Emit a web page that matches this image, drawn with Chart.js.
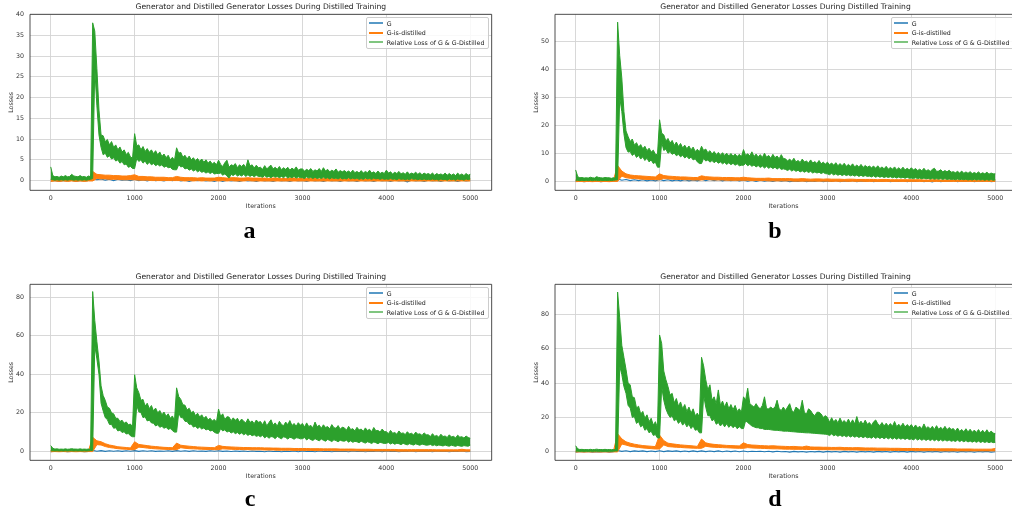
<!DOCTYPE html>
<html><head><meta charset="utf-8">
<script src="https://cdn.jsdelivr.net/npm/chart.js@4"></script>
<style>
body{margin:0;background:#fff;width:1012px;height:516px;overflow:hidden;position:relative;font-family:"DejaVu Sans",sans-serif}
canvas{position:absolute}
.ttl{position:absolute;font-size:7.6px;color:#222;white-space:nowrap;transform:translateX(-50%);line-height:8px}
.lg{position:absolute;border:1px solid #ccc;border-radius:2px;background:rgba(255,255,255,0.85);font-size:6.3px;color:#222;box-sizing:border-box}
.lg span{position:absolute;white-space:nowrap;line-height:7px}
.lg i{position:absolute;height:2px}
.let{position:absolute;font-family:"Liberation Serif",serif;font-weight:bold;font-size:24px;line-height:24px;transform:translateX(-50%);color:#000}
</style></head>
<body>
<script>
const chartTitle = 'Generator and Distilled Generator Losses During Distilled Training';
const seriesNames = ['G', 'G-is-distilled', 'Relative Loss of G & G-Distilled'];
const panelLetters = ['a', 'b', 'c', 'd'];
const xTitle = 'Iterations', yTitle = 'Losses';
const xTicks = [0, 1000, 2000, 3000, 4000, 5000];
const yTicksA = [0, 5, 10, 15, 20, 25, 30, 35, 40];
const yTicksB = [0, 10, 20, 30, 40, 50];
const yTicksC = [0, 20, 40, 60, 80];
const yTicksD = [0, 20, 40, 60, 80];
const STEP_GREEN = 25, STEP_OTHER = 50; // iterations between read samples
// The noisy series are read as upper / lower envelopes of their band.

// ---- panel a ----
const gAHi = [3.3,1.2,0.9,1.0,0.8,1.1,0.9,1.2,0.9,1.0,1.5,1.1,1.0,0.9,1.2,0.9,1.0,0.8,1.1,0.9,
38,36,27,17,11,10.8,9.4,9.9,8.6,9.4,8.0,8.6,7.4,8.1,6.9,7.4,6.3,6.8,5.7,5.4,
11.3,8.4,8.6,7.4,8.2,7.0,7.7,6.8,7.4,6.5,7.2,6.2,6.9,5.8,6.4,5.5,6.1,5.0,5.6,4.9,
7.9,6.6,6.8,5.6,6.1,5.2,5.9,5.0,5.5,4.8,5.3,4.6,5.2,4.4,5.0,4.2,4.7,4.0,4.4,3.8,
4.9,3.9,3.4,4.3,4.9,3.2,3.8,3.6,4.1,3.1,3.8,3.4,3.9,3.1,5.0,3.5,3.8,3.0,3.7,3.1,
3.2,2.7,3.6,2.8,3.3,3.7,2.8,3.2,2.7,3.4,2.6,3.1,2.7,3.2,2.5,3.0,2.6,3.3,2.5,2.8,
2.8,2.3,2.7,2.4,2.9,2.2,2.6,2.3,2.9,2.2,3.1,2.3,2.7,2.1,2.5,2.2,2.8,2.0,2.4,2.1,
2.4,2.0,2.3,1.9,2.5,1.9,2.2,1.8,2.4,1.8,2.2,1.9,2.5,1.8,2.1,1.7,2.3,1.7,2.0,1.7,
2.5,1.8,2.1,1.6,2.0,1.7,2.2,1.6,1.9,1.5,2.1,1.5,1.8,1.6,2.0,1.5,1.9,1.4,1.8,1.5,
1.7,1.4,1.8,1.3,1.7,1.4,1.6,1.3,1.8,1.3,1.7,1.3,1.6,1.2,1.8,1.3,1.6,1.2,1.7,1.3,
1.5];
const gALo = [0.3,0.2,0.1,0.2,0.1,0.2,0.1,0.2,0.1,0.2,0.2,0.1,0.2,0.1,0.2,0.1,0.2,0.1,0.2,0.3,
0.5,27,18,11,8,6.2,6.6,5.6,6.0,5.2,5.5,4.7,5.0,4.2,4.6,3.8,4.0,3.2,3.4,2.9,
2.9,5.3,4.6,5.0,4.2,4.7,3.9,4.4,3.8,4.1,3.6,3.9,3.5,3.8,3.2,3.5,3.1,3.2,2.7,2.6,
2.6,3.8,3.3,3.4,2.8,3.0,2.5,2.8,2.3,2.6,2.1,2.4,2.0,2.2,1.8,2.1,1.7,2.0,1.6,1.7,
1.7,1.8,1.3,1.6,1.1,0.6,1.5,1.2,1.6,1.1,1.4,1.1,1.5,1.0,1.4,1.0,1.3,0.9,1.3,1.0,
1.0,0.8,1.2,0.8,1.0,0.7,1.1,0.8,1.0,0.7,1.0,0.7,1.1,0.6,0.9,0.7,1.0,0.6,0.9,0.7,
0.7,0.5,0.9,0.6,0.8,0.5,0.8,0.5,0.7,0.5,0.8,0.5,0.7,0.4,0.7,0.5,0.6,0.4,0.7,0.4,
0.5,0.4,0.7,0.4,0.6,0.4,0.6,0.3,0.5,0.3,0.6,0.4,0.5,0.3,0.6,0.4,0.5,0.3,0.5,0.3,
0.4,0.3,0.5,0.3,0.4,0.2,0.5,0.3,0.4,0.2,0.4,0.2,0.5,0.3,0.4,0.2,0.4,0.2,0.4,0.2,
0.3,0.2,0.4,0.2,0.3,0.1,0.4,0.2,0.3,0.1,0.4,0.2,0.3,0.1,0.4,0.2,0.3,0.1,0.4,0.2,
0.4];
const oAHi = [0.3,0.2,0.3,0.2,0.3,0.3,0.2,0.3,0.2,0.3,
2.2,1.5,1.4,1.3,1.3,1.2,1.2,1.1,1.1,1.2,
1.4,1.0,1.0,0.9,0.9,0.8,0.8,0.8,0.7,0.7,
1.0,0.8,0.7,0.7,0.7,0.6,0.7,0.6,0.6,0.6,
0.8,0.7,0.6,0.7,0.7,0.6,0.6,0.7,0.6,0.6,
0.6,0.6,0.5,0.6,0.6,0.5,0.5,0.6,0.6,0.5,
0.5,0.5,0.5,0.5,0.4,0.5,0.6,0.5,0.4,0.5,
0.4,0.5,0.5,0.4,0.4,0.4,0.4,0.5,0.5,0.4,
0.4,0.4,0.3,0.4,0.4,0.3,0.3,0.4,0.4,0.3,
0.3,0.4,0.4,0.3,0.3,0.3,0.3,0.4,0.3,0.3,
0.3];
const oALo = [-0.2,-0.1,-0.2,-0.1,-0.2,-0.1,-0.2,-0.1,-0.2,-0.1,
-0.1,0.5,0.4,0.4,0.3,0.3,0.3,0.2,0.2,0.2,
0.2,0.1,0.1,0.1,0.0,0.0,0.0,0.0,0.0,0.0,
0.0,0.0,-0.1,0.0,-0.1,0.0,-0.1,0.0,-0.1,0.0,
-0.1,0.0,-0.1,0.0,-0.1,-0.1,-0.1,0.0,-0.1,-0.1,
-0.1,-0.1,-0.1,-0.1,-0.1,-0.1,-0.1,-0.1,-0.1,-0.1,
-0.1,-0.1,-0.1,-0.1,-0.1,-0.1,-0.1,-0.1,-0.1,-0.1,
-0.1,-0.1,-0.1,-0.1,-0.1,-0.1,-0.1,-0.1,-0.1,-0.1,
-0.1,-0.1,-0.1,-0.1,-0.1,-0.1,-0.1,-0.1,-0.1,-0.1,
-0.1,-0.1,-0.1,-0.1,-0.1,-0.1,-0.1,-0.1,-0.1,-0.1,
-0.1];
const bA = [-0.1,0.0,-0.2,0.0,-0.1,0.1,-0.2,0.0,-0.1,0.0,
0.5,0.2,0.4,0.1,0.3,0.0,0.3,0.1,0.2,0.0,
0.3,0.0,0.2,-0.1,0.2,0.0,0.1,-0.1,0.2,0.0,
0.2,-0.1,0.1,-0.2,0.1,0.0,0.1,-0.1,0.0,-0.2,
0.1,-0.2,0.1,-0.1,0.0,-0.2,0.1,-0.1,0.0,-0.2,
0.1,-0.1,0.0,-0.2,0.1,-0.1,0.0,-0.2,0.1,-0.1,
0.0,-0.2,0.1,-0.1,0.0,-0.2,0.1,-0.1,0.0,-0.2,
0.1,-0.1,0.0,-0.2,0.1,-0.1,0.0,-0.2,0.1,-0.1,
0.0,-0.2,0.1,-0.1,0.0,-0.3,0.1,-0.1,0.0,-0.2,
0.1,-0.1,0.0,-0.2,0.1,-0.1,0.0,-0.2,0.1,-0.1,
0.0];

// ---- panel b ----
const gBHi = [4.0,1.6,1.2,1.3,1.1,1.2,1.1,1.4,1.2,1.1,1.6,1.3,1.2,1.1,1.3,1.2,1.2,1.0,1.2,1.1,
57,45,37,25,18,16,14.2,15.1,12.9,13.8,12.2,13.1,11.6,12.5,10.9,11.8,10.4,11.1,9.6,9.5,
22,17.2,16.6,14.4,15.3,13.6,14.6,12.8,14.0,12.4,13.5,11.9,12.9,11.6,12.6,11.2,12.2,10.6,11.4,10.5,
12.5,11.0,11.5,10.2,10.9,9.7,10.6,9.5,10.3,9.3,10.2,9.2,10.0,9.0,9.9,8.9,9.7,8.8,9.6,8.7,
11.3,9.2,9.8,9.0,10.5,8.8,9.7,8.6,9.5,8.5,10,8.6,9.2,8.2,9.6,8.4,9.0,8.0,9.5,8.1,
8.0,7.2,7.9,7.1,8.2,6.9,7.4,6.7,7.9,6.9,7.2,6.5,7.6,6.5,7.0,6.3,7.4,6.2,6.8,6.1,
6.8,5.9,6.5,5.7,6.6,5.5,6.3,5.5,6.4,5.3,6.0,5.3,6.2,5.1,5.8,5.0,6.0,4.9,5.6,5.0,
5.4,4.8,5.4,4.6,5.5,4.5,5.1,4.4,5.3,4.3,4.9,4.3,5.1,4.1,4.8,4.1,5.0,4.0,4.6,4.0,
4.8,4.0,4.5,3.8,4.3,3.7,4.6,3.6,4.1,3.5,4.2,4.6,3.5,3.6,4.1,3.3,3.8,3.3,3.9,3.2,
3.4,3.0,3.5,2.9,3.6,2.8,3.3,2.8,3.4,2.7,3.1,2.7,3.3,2.6,3.0,2.6,3.2,2.5,2.9,2.6,
2.6];
const gBLo = [0.3,0.3,0.2,0.3,0.2,0.3,0.2,0.3,0.2,0.3,0.3,0.2,0.3,0.2,0.3,0.2,0.3,0.2,0.3,0.4,
0.5,30,25,17,12,10.4,10.6,9.2,9.9,8.5,9.2,7.9,8.7,7.4,8.2,6.9,7.6,6.3,6.8,5.0,
5.0,13.9,11.0,11.5,10.0,10.6,9.6,10.1,9.1,9.6,8.7,9.3,8.3,8.9,8.0,8.6,7.6,8.0,6.9,6.3,
6.3,8.2,7.2,7.6,6.8,7.4,6.6,7.2,6.4,6.9,6.2,6.7,6.0,6.6,5.9,6.4,5.7,6.2,5.5,5.7,
5.7,6.3,5.5,6.0,5.3,5.8,5.1,5.6,4.9,5.4,4.7,5.3,4.6,5.1,4.5,5.0,4.3,4.9,4.2,4.4,
4.2,3.8,4.3,3.6,4.1,3.5,3.9,3.3,3.7,3.2,3.6,3.1,3.5,2.9,3.3,2.9,3.2,2.7,3.1,2.7,
2.6,2.3,2.8,2.2,2.6,2.1,2.5,2.0,2.4,2.0,2.3,1.9,2.2,1.8,2.2,1.7,2.1,1.7,2.0,1.7,
1.8,1.5,1.9,1.4,1.8,1.4,1.7,1.3,1.6,1.3,1.6,1.2,1.5,1.1,1.5,1.1,1.4,1.0,1.4,1.0,
1.1,0.9,1.2,0.9,1.1,0.8,1.1,0.8,1.0,0.7,1.0,0.7,0.9,0.7,0.9,0.6,0.9,0.6,0.8,0.6,
0.7,0.5,0.8,0.5,0.7,0.5,0.7,0.4,0.6,0.4,0.7,0.4,0.6,0.4,0.6,0.3,0.6,0.3,0.6,0.3,
0.5];
const oBHi = [0.4,0.3,0.4,0.3,0.4,0.3,0.4,0.3,0.4,0.4,
5.6,3.6,2.6,2.2,2.0,1.9,1.8,1.7,1.6,1.5,
2.6,2.0,1.8,1.7,1.6,1.5,1.5,1.4,1.3,1.3,
1.9,1.6,1.5,1.4,1.4,1.3,1.3,1.3,1.2,1.2,
1.4,1.2,1.1,1.0,1.0,1.0,1.1,0.9,0.9,0.9,
0.9,0.9,0.8,0.8,0.9,0.8,0.7,0.8,0.8,0.7,
0.8,0.7,0.7,0.7,0.6,0.7,0.7,0.6,0.6,0.6,
0.6,0.6,0.5,0.6,0.6,0.5,0.5,0.5,0.5,0.5,
0.5,0.5,0.5,0.4,0.4,0.5,0.5,0.4,0.4,0.4,
0.4,0.4,0.4,0.4,0.4,0.4,0.3,0.4,0.4,0.3,
0.3];
const oBLo = [-0.2,-0.1,-0.2,-0.1,-0.2,-0.1,-0.2,-0.1,-0.2,-0.1,
-0.1,1.8,1.2,1.0,0.9,0.8,0.7,0.6,0.6,0.5,
0.5,0.9,0.8,0.7,0.6,0.6,0.5,0.5,0.4,0.4,
0.4,0.6,0.5,0.4,0.4,0.4,0.3,0.3,0.3,0.3,
0.3,0.3,0.2,0.2,0.2,0.2,0.1,0.1,0.1,0.1,
0.1,0.1,0.0,0.0,0.0,0.0,0.0,0.0,0.0,0.0,
0.0,-0.1,0.0,-0.1,0.0,-0.1,0.0,-0.1,0.0,-0.1,
-0.1,-0.1,-0.1,-0.1,-0.1,-0.1,-0.1,-0.1,-0.1,-0.1,
-0.1,-0.1,-0.1,-0.1,-0.1,-0.1,-0.1,-0.1,-0.1,-0.1,
-0.1,-0.1,-0.1,-0.1,-0.1,-0.1,-0.1,-0.1,-0.1,-0.1,
-0.1];
const bB = [-0.1,0.1,-0.2,0.0,-0.1,0.1,-0.2,0.0,-0.1,0.1,
0.8,0.3,0.6,0.2,0.5,0.2,0.5,0.1,0.4,0.1,
0.6,0.2,0.5,0.1,0.4,0.1,0.5,0.1,0.4,0.1,
0.7,0.2,0.6,0.2,0.6,0.1,0.5,0.2,0.5,0.1,
0.4,0.0,0.3,-0.1,0.3,0.0,0.2,-0.1,0.3,0.0,
0.2,-0.2,0.1,-0.1,0.2,-0.2,0.1,-0.1,0.2,-0.2,
0.1,-0.1,0.2,-0.2,0.1,-0.1,0.2,-0.2,0.1,-0.1,
0.2,-0.2,0.1,-0.1,0.2,-0.2,0.1,-0.1,0.2,-0.2,
0.1,-0.1,0.2,-0.2,0.1,-0.3,0.2,-0.2,0.1,-0.1,
0.2,-0.2,0.1,-0.1,0.2,-0.2,0.1,-0.1,0.2,-0.2,
0.0];

// ---- panel c ----
const gCHi = [3.0,1.6,1.2,1.3,1.1,1.2,1.1,1.3,1.1,1.2,1.4,1.2,1.2,1.1,1.3,1.1,1.2,1.1,1.2,1.1,
83,68,57,47,34,29,26.5,23,22.4,20,19.5,17.2,17.2,15.5,16.2,14.6,15.3,13.8,14.2,12.8,
39.8,33,30.5,26.5,27,23.5,25,22.2,23.8,21,22.5,20,21.2,19,20.4,18.2,19.5,17.2,18.4,16,
33,28.5,27,24.2,24,21.5,22.4,20.1,20.8,18.6,19.8,17.9,19.0,17.1,18.2,16.3,17.2,15.8,16.6,15.2,
22,18.2,19.5,16.5,18.0,17.8,15.9,17.4,16.1,17.2,15.2,16.8,15.6,14.8,16.9,15.0,15.8,14.4,16.3,15.1,
15.5,13.8,15.9,13.2,14.9,16.4,13.6,14.8,13.1,15.6,14.0,13.3,15.2,13.9,16.0,13.4,14.5,13.0,14.9,13.6,
14.5,12.6,14.8,12.9,13.5,12.2,15.2,12.8,13.6,12.0,13.8,12.4,12.9,11.7,13.9,12.3,12.0,13.4,11.5,12.6,
12.2,11.0,13.0,11.3,11.8,10.6,12.5,11.1,11.6,10.4,12.2,10.8,11.5,10.2,12.4,10.7,10.9,10.0,11.6,10.3,
10.2,9.2,10.9,9.4,9.8,8.9,10.6,9.3,9.6,8.7,10.2,9.0,9.4,8.5,10.0,8.9,9.1,8.3,9.6,8.6,
8.6,7.7,9.2,7.8,8.3,7.4,8.9,7.7,8.0,7.2,8.6,7.5,7.8,7.0,8.4,7.4,7.6,6.9,8.0,7.2,
6.8];
const gCLo = [0.3,0.3,0.2,0.3,0.2,0.3,0.2,0.3,0.2,0.3,0.3,0.2,0.3,0.2,0.3,0.2,0.3,0.2,0.3,0.4,
0.5,55,48,40,25,21,17.5,16.5,14,14,12,12.3,10.6,11,9.8,10.2,9,9.3,8.1,7.6,
7.6,24,20.5,20.2,17.5,18,15.8,16.2,14.8,14.6,13.2,13.8,12.5,13.0,12.0,12.5,11.4,11.9,10.8,10,
10,20,17.6,17.4,15.6,15.5,14,14.2,12.6,13.1,11.9,12.6,11.6,12.2,11.1,11.6,10.6,10.9,9.9,9.4,
9.4,11.8,10.6,11.2,10.0,10.6,9.5,10.2,9.2,9.8,8.9,9.6,8.6,9.3,8.3,9.0,8.1,8.6,7.8,8.2,
7.6,8.4,7.0,7.9,6.8,7.7,7.5,6.6,7.8,7.1,6.5,7.6,7.2,6.4,7.3,7.0,6.3,7.1,6.9,6.5,
6.6,7.2,5.9,6.8,6.1,5.7,6.6,6.0,5.5,6.4,5.8,5.3,6.2,5.7,5.1,6.0,5.6,5.0,5.8,5.4,
5.3,5.8,4.8,5.5,4.7,5.2,5.0,4.5,5.3,4.7,4.3,5.0,4.6,4.1,4.9,4.5,4.0,4.7,4.4,4.1,
4.2,4.6,3.8,4.4,3.7,4.2,4.0,3.5,4.2,3.7,3.4,4.0,3.6,3.3,3.9,3.5,3.2,3.8,3.5,3.2,
3.3,3.6,3.0,3.4,2.9,3.3,3.1,2.8,3.3,2.9,2.7,3.2,2.9,2.6,3.1,2.8,2.6,3.0,2.8,2.7,
3.2];
const oCHi = [0.4,0.3,0.4,0.3,0.4,0.3,0.4,0.3,0.4,0.4,
7.3,5.5,5.0,4.0,3.3,2.9,2.4,2.2,2.0,1.8,
5.0,3.6,3.3,3.0,2.7,2.5,2.3,2.1,2.0,1.9,
4.3,3.2,2.9,2.7,2.5,2.3,2.2,2.1,2.0,1.9,
3.1,2.6,2.4,2.3,2.2,2.1,2.0,2.0,1.9,1.9,
1.9,1.8,1.8,1.7,1.7,1.6,1.6,1.6,1.5,1.5,
1.5,1.5,1.4,1.4,1.4,1.3,1.3,1.3,1.3,1.2,
1.2,1.2,1.2,1.1,1.1,1.1,1.1,1.0,1.0,1.0,
1.0,1.0,1.0,0.9,0.9,0.9,0.9,0.9,0.9,0.9,
0.9,0.9,0.8,0.8,0.8,0.8,0.8,0.8,1.1,0.8,
0.8];
const oCLo = [-0.2,-0.1,-0.2,-0.1,-0.2,-0.1,-0.2,-0.1,-0.2,-0.1,
-0.1,3.5,3.3,2.5,2.0,1.7,1.4,1.2,1.1,0.9,
0.9,2.2,2.0,1.7,1.5,1.3,1.2,1.1,1.0,0.9,
0.9,1.9,1.6,1.4,1.3,1.2,1.1,1.0,1.0,0.9,
0.9,1.3,1.2,1.1,1.0,1.0,0.9,0.9,0.8,0.8,
0.8,0.7,0.7,0.7,0.6,0.6,0.6,0.6,0.5,0.5,
0.5,0.5,0.5,0.4,0.4,0.4,0.4,0.4,0.3,0.3,
0.3,0.3,0.3,0.3,0.2,0.2,0.2,0.2,0.2,0.2,
0.2,0.2,0.2,0.1,0.1,0.1,0.1,0.1,0.1,0.1,
0.1,0.1,0.1,0.1,0.1,0.1,0.1,0.1,0.1,0.1,
0.1];
const bC = [-0.2,0.1,-0.1,0.1,-0.2,0.0,-0.1,0.1,-0.2,0.0,
0.5,0.1,0.4,0.0,0.3,0.1,0.3,0.0,0.3,0.1,
0.4,0.0,0.3,0.1,0.3,0.0,0.2,0.1,0.3,0.0,
0.4,0.1,0.3,0.0,0.3,0.1,0.2,0.0,0.3,0.1,
0.3,0.0,0.2,-0.1,0.2,0.0,0.2,-0.1,0.2,0.0,
0.1,-0.2,0.2,-0.1,0.1,-0.2,0.1,-0.1,0.2,-0.2,
0.2,-0.1,0.1,-0.2,0.2,-0.1,0.1,-0.2,0.1,-0.1,
0.1,-0.2,0.2,-0.1,0.1,-0.2,0.1,-0.1,0.2,-0.2,
0.2,-0.1,0.1,-0.2,0.1,-0.1,0.2,-0.2,0.1,-0.1,
0.1,-0.2,0.2,-0.1,0.1,-0.2,0.1,-0.1,0.2,-0.2,
0.0];

// ---- panel d ----
const gDHi = [3.5,1.7,1.3,1.4,1.2,1.3,1.2,1.4,1.2,1.3,1.5,1.3,1.3,1.2,1.4,1.2,1.3,1.2,1.3,1.2,
93,78,62,55,48,40,39,32,31.5,25.5,26.5,22,23.5,19.5,21.5,17.5,19.5,15.5,17.5,14,
68,63,47,42,38,33,34,28.5,31,26.5,29,25,27.5,23.5,26,22.5,25,21,22.5,20,
55,50,42,36,39,30,32,28,36,27,29.5,26,29,25,27.5,24.5,27,23.5,25,23,
32,30,37,28,27,26,28,26,25,27,32,25,25,26,25,26,30,25,24,26,
24,26,28,24,23,26,25,24,30,23,22,25,24,22,21,23,23,22,20,21,
20,17.2,19.8,17.4,18.8,16.8,19.6,17.0,18.2,16.6,19.0,16.4,18.6,16.2,20.5,16.3,17.8,15.9,18.4,16.0,
17,15.3,17.4,18.5,16.3,15.2,17.0,15.0,16.6,14.9,16.4,14.8,17.6,14.6,16.0,14.6,16.6,14.4,15.8,14.6,
15.8,13.8,15.6,13.9,14.8,13.4,16.2,13.6,14.6,13.3,14.8,13.0,15.2,13.1,14.3,12.9,14.8,12.8,14.1,13.0,
13.5,12.0,13.8,11.8,13.0,11.6,13.4,11.5,13.1,11.3,12.6,11.2,12.9,11.0,12.5,10.9,12.8,10.8,12.0,10.9,
10.5];
const gDLo = [0.3,0.3,0.2,0.3,0.2,0.3,0.2,0.3,0.2,0.3,0.3,0.2,0.3,0.2,0.3,0.2,0.3,0.2,0.3,0.4,
0.5,50,45,38,34,27,25.5,20,20.5,16.5,17.5,14.5,15.5,12.5,13.5,11,12,9.5,10,8,
8,38,30,25,22,20,21,18,19,16.5,18,15.5,17,14.5,16,13.5,15,12.5,13,11,
11,33,26,21,21,18,19,16,17,15,16.5,14.5,16.3,14.2,15.6,14,15.2,13.4,14.6,13.5,
13.5,18,17,16,15,14.5,14,14,13.5,13.5,13,13,13,12.8,12.6,12.5,12.5,12.3,12.2,12,
12,12,11.8,11.7,11.6,11.5,11.4,11.3,11.2,11.1,11,11,10.9,10.8,10.7,10.6,10.5,10.4,10.3,10.2,
10.1,9.4,10.4,9.3,9.9,9.0,9.8,8.9,9.5,8.7,9.4,8.6,9.3,8.5,9.1,8.3,9.0,8.2,8.9,8.1,
8.5,7.9,8.8,7.8,8.6,7.7,8.5,7.6,8.4,7.5,8.3,7.4,8.2,7.3,8.1,7.3,8.0,7.2,7.9,7.1,
7.5,6.9,7.8,6.8,7.6,6.7,7.5,6.6,7.4,6.5,7.3,6.4,7.2,6.3,7.1,6.2,7.0,6.2,6.9,6.1,
6.5,6.0,6.8,5.9,6.6,5.8,6.5,5.7,6.3,5.6,6.2,5.5,6.2,5.4,6.0,5.4,5.9,5.3,5.8,5.3,
5.5];
const oDHi = [0.4,0.3,0.4,0.3,0.4,0.3,0.4,0.3,0.4,0.4,
10.5,7.5,5.8,5.0,4.4,4.0,3.6,3.4,3.2,3.0,
9.7,6.5,5.0,4.6,4.3,4.0,3.8,3.6,3.4,3.1,
7.4,5.2,4.6,4.3,4.1,3.9,3.7,3.6,3.5,3.4,
5.2,4.2,3.9,3.8,3.6,3.5,3.4,3.5,3.3,3.2,
3.1,3.0,3.1,2.9,2.8,3.3,2.8,2.7,2.7,2.6,
2.6,2.5,2.5,2.6,2.4,2.4,2.3,2.4,2.3,2.2,
2.2,2.2,2.1,2.1,2.1,2.0,2.0,2.0,1.9,1.9,
1.9,1.9,1.8,1.8,1.8,1.8,1.7,1.7,1.7,1.7,
1.7,1.6,1.6,1.6,1.6,1.5,1.5,1.5,1.5,1.5,
1.9];
const oDLo = [-0.2,-0.1,-0.2,-0.1,-0.2,-0.1,-0.2,-0.1,-0.2,-0.1,
-0.1,4.5,3.9,3.2,2.8,2.5,2.2,2.0,1.8,1.6,
1.6,4.0,3.0,2.8,2.6,2.5,2.3,2.2,2.1,2.0,
2.0,3.2,2.8,2.6,2.5,2.4,2.3,2.2,2.1,2.0,
2.0,2.4,2.2,2.1,2.0,1.9,1.8,1.7,1.7,1.6,
1.5,1.5,1.4,1.4,1.4,1.3,1.3,1.3,1.2,1.2,
1.2,1.1,1.1,1.1,1.0,1.0,1.0,1.0,0.9,0.9,
0.9,0.9,0.8,0.8,0.8,0.8,0.7,0.7,0.7,0.7,
0.7,0.6,0.6,0.6,0.6,0.6,0.6,0.5,0.5,0.5,
0.5,0.5,0.5,0.5,0.5,0.5,0.5,0.5,0.5,0.5,
0.5];
const bD = [-0.2,0.1,-0.1,0.1,-0.2,0.0,-0.1,0.1,-0.2,0.0,
0.7,0.2,0.6,0.1,0.5,0.2,0.5,0.1,0.4,0.1,
0.6,0.1,0.5,0.2,0.5,0.1,0.4,0.1,0.5,0.1,
0.5,0.1,0.4,0.1,0.5,0.0,0.4,0.1,0.4,0.0,
0.4,0.0,0.3,0.1,0.3,0.0,0.3,-0.1,0.3,0.0,
0.1,-0.2,0.2,-0.1,0.1,-0.2,0.1,-0.1,0.2,-0.2,
0.2,-0.1,0.1,-0.2,0.2,-0.1,0.1,-0.2,0.1,-0.1,
0.1,-0.2,0.2,-0.1,0.1,-0.2,0.1,-0.1,0.2,-0.2,
0.2,-0.1,0.1,-0.2,0.1,-0.1,0.2,-0.2,0.1,-0.1,
0.1,-0.2,0.2,-0.1,0.1,-0.2,0.1,-0.1,0.2,-0.2,
0.0];

const colors = ['#1f77b4', '#ff7f0e', '#2ca02c'];
const legendColors = ['rgba(31,119,180,0.75)', '#ff7f0e', 'rgba(44,160,44,0.6)'];

const panels = [
  {left:0,   top:0,   w:506, h:220, padR:14.33, xMin:-247, xMax:5255, yMin:-2.35, yMax:40.05, yTicks:yTicksA,
   gHi:gAHi, gLo:gALo, oHi:oAHi, oLo:oALo, b:bA, openRight:false, titleX:260.8, titleY:3, legX:366, legY:17, letX:249.5, letY:217.5},
  {left:525, top:0,   w:487, h:220, padR:0,     xMin:-246, xMax:5199, yMin:-3.3,  yMax:59.8,  yTicks:yTicksB,
   gHi:gBHi, gLo:gBLo, oHi:oBHi, oLo:oBLo, b:bB, openRight:true,  titleX:785.5, titleY:3, legX:891, legY:17, letX:775, letY:217.5},
  {left:0,   top:270, w:506, h:220, padR:14.33, xMin:-247, xMax:5255, yMin:-4.65, yMax:86.75, yTicks:yTicksC,
   gHi:gCHi, gLo:gCLo, oHi:oCHi, oLo:oCLo, b:bC, openRight:false, titleX:260.8, titleY:273, legX:366, legY:287, letX:250, letY:486},
  {left:525, top:270, w:487, h:220, padR:0,     xMin:-246, xMax:5199, yMin:-5.0,  yMax:97.5,  yTicks:yTicksD,
   gHi:gDHi, gLo:gDLo, oHi:oDHi, oLo:oDLo, b:bD, openRight:true,  titleX:785.5, titleY:273, legX:891, legY:287, letX:775, letY:486}
];

function xy(vals, step) { return vals.map((v, i) => ({x: i * step, y: v})); }

const boxPlugin = {
  id: 'box',
  afterDatasetsDraw(chart, args, opts) {
    const {ctx, chartArea: a} = chart;
    ctx.save();
    ctx.strokeStyle = '#3a3a3a';
    ctx.lineWidth = 0.9;
    ctx.beginPath();
    if (opts.openRight) {
      ctx.moveTo(a.right + 4, a.top); ctx.lineTo(a.left, a.top);
      ctx.lineTo(a.left, a.bottom); ctx.lineTo(a.right + 4, a.bottom);
    } else {
      ctx.rect(a.left, a.top, a.right - a.left, a.bottom - a.top);
    }
    ctx.stroke();
    ctx.restore();
  }
};

const tickFont = {family: 'DejaVu Sans', size: 6.3};

panels.forEach((p, k) => {
  const cv = document.createElement('canvas');
  cv.width = p.w; cv.height = p.h;
  cv.style.left = p.left + 'px'; cv.style.top = p.top + 'px';
  cv.style.width = p.w + 'px'; cv.style.height = p.h + 'px';
  document.body.appendChild(cv);
  new Chart(cv, {
    type: 'line',
    data: {datasets: [
      {label: seriesNames[2], data: xy(p.gHi, STEP_GREEN), borderColor: colors[2], backgroundColor: colors[2], borderWidth: 1, fill: '+1', order: 0},
      {label: seriesNames[2] + ' (low)', data: xy(p.gLo, STEP_GREEN), borderColor: colors[2], borderWidth: 1, fill: false, order: 1},
      {label: seriesNames[1], data: xy(p.oHi, STEP_OTHER), borderColor: colors[1], backgroundColor: colors[1], borderWidth: 1, fill: '+1', order: 2},
      {label: seriesNames[1] + ' (low)', data: xy(p.oLo, STEP_OTHER), borderColor: colors[1], borderWidth: 1, fill: false, order: 3},
      {label: seriesNames[0], data: xy(p.b, STEP_OTHER), borderColor: colors[0], borderWidth: 1.1, fill: false, order: 4}
    ]},
    options: {
      responsive: false, animation: false, devicePixelRatio: 1,
      layout: {padding: {left: 0, top: 14.33, right: p.padR, bottom: 0}},
      elements: {point: {radius: 0}, line: {tension: 0}},
      plugins: {legend: {display: false}, tooltip: {enabled: false}, title: {display: false}, box: {openRight: p.openRight}},
      scales: {
        x: {
          type: 'linear', min: p.xMin, max: p.xMax,
          afterBuildTicks: s => { s.ticks = xTicks.map(v => ({value: v})); },
          afterFit: s => { s.height = 29.67; },
          grid: {color: '#d4d4d4', lineWidth: 0.9, drawTicks: false},
          border: {display: false},
          ticks: {font: tickFont, color: '#333', padding: 4, maxRotation: 0, autoSkip: false, callback: v => String(v)},
          title: {display: true, text: xTitle, font: tickFont, color: '#333', padding: {top: 0, bottom: 10}}
        },
        y: {
          type: 'linear', min: p.yMin, max: p.yMax,
          afterBuildTicks: s => { s.ticks = p.yTicks.map(v => ({value: v})); },
          afterFit: s => { s.width = 30; },
          grid: {color: '#d4d4d4', lineWidth: 0.9, drawTicks: false},
          border: {display: false},
          ticks: {font: tickFont, color: '#333', padding: 6, autoSkip: false, callback: v => String(v)},
          title: {display: true, text: yTitle, font: tickFont, color: '#333', padding: {top: 7.9, bottom: 0}}
        }
      }
    },
    plugins: [boxPlugin]
  });

  const t = document.createElement('div');
  t.className = 'ttl'; t.textContent = chartTitle;
  t.style.left = p.titleX + 'px'; t.style.top = p.titleY + 'px';
  document.body.appendChild(t);

  const lg = document.createElement('div');
  lg.className = 'lg';
  lg.style.left = p.legX + 'px'; lg.style.top = p.legY + 'px';
  lg.style.width = '123px'; lg.style.height = '32px';
  [0, 1, 2].forEach(j => {
    const cy = 5 + j * 9.6;
    const ln = document.createElement('i');
    ln.style.left = '2px'; ln.style.width = '14px'; ln.style.top = Math.round(cy - 1) + 'px';
    ln.style.background = legendColors[j];
    lg.appendChild(ln);
    const tx = document.createElement('span');
    tx.textContent = seriesNames[j];
    tx.style.left = '19.7px'; tx.style.top = (cy - 3.5) + 'px';
    lg.appendChild(tx);
  });
  document.body.appendChild(lg);

  const l = document.createElement('div');
  l.className = 'let'; l.textContent = panelLetters[k];
  l.style.left = p.letX + 'px'; l.style.top = p.letY + 'px';
  document.body.appendChild(l);
});
</script>
</body></html>
